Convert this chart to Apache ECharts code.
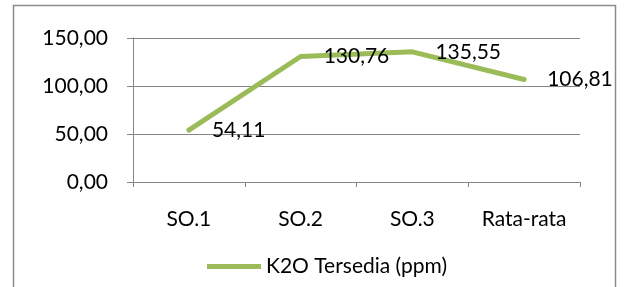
<!DOCTYPE html>
<html>
<head>
<meta charset="utf-8">
<script src="https://cdn.jsdelivr.net/npm/echarts@6/dist/echarts.min.js"></script>
<style>
  html, body { margin: 0; padding: 0; background: #fff; }
  #chart { width: 624px; height: 287px; }
</style>
</head>
<body>
<div id="chart"></div>
<script>
// categories and values
const categories = ["SO.1", "SO.2", "SO.3", "Rata-rata"];
const k2oValues = [54.11, 130.76, 135.55, 106.81];
const seriesName = "K2O Tersedia (ppm)";

const font = "Lato";
const fs = 21;
const fmt = (v) => v.toFixed(2).replace(".", ",");

const chart = echarts.init(document.getElementById("chart"));

chart.setOption({
  animation: false,
  textStyle: { fontFamily: font },
  graphic: [
    {
      type: "rect",
      shape: { x: 13.5, y: 5.5, width: 602, height: 320 },
      style: { fill: "none", stroke: "#8c8c8c", lineWidth: 1.5 }
    }
  ],
  grid: { left: 133, right: 44, top: 38, bottom: 105 },
  legend: {
    left: 207,
    top: 256,
    padding: 0,
    itemWidth: 54,
    itemHeight: 20,
    itemGap: 5,
    data: [{ name: seriesName, icon: "path://M0,0 L54,0 L54,5 L0,5 Z" }],
    textStyle: { fontFamily: font, fontSize: fs, color: "#000" },
    itemStyle: { color: "#9bbb59" }
  },
  xAxis: {
    type: "category",
    data: categories,
    boundaryGap: true,
    axisLine: { lineStyle: { color: "#868686", width: 1 } },
    axisTick: { show: true, length: 5, lineStyle: { color: "#868686" } },
    axisLabel: { color: "#000", fontSize: fs, fontFamily: font, margin: 27 }
  },
  yAxis: {
    type: "value",
    min: 0,
    max: 150,
    interval: 50,
    axisLine: { show: true, lineStyle: { color: "#868686", width: 1 } },
    axisTick: { show: true, length: 6, lineStyle: { color: "#868686" } },
    splitLine: { lineStyle: { color: "#868686", width: 1 } },
    axisLabel: { color: "#000", fontSize: fs, fontFamily: font, margin: 25, formatter: fmt }
  },
  series: [
    {
      name: seriesName,
      type: "line",
      data: k2oValues,
      symbol: "circle",
      symbolSize: 0,
      showSymbol: true,
      lineStyle: { color: "#9bbb59", width: 5, cap: "round", join: "round" },
      itemStyle: { color: "#9bbb59" },
      label: {
        show: true,
        position: "right",
        distance: 23,
        color: "#000",
        fontSize: fs,
        fontFamily: font,
        formatter: (p) => fmt(p.value)
      }
    }
  ]
});
</script>
</body>
</html>
